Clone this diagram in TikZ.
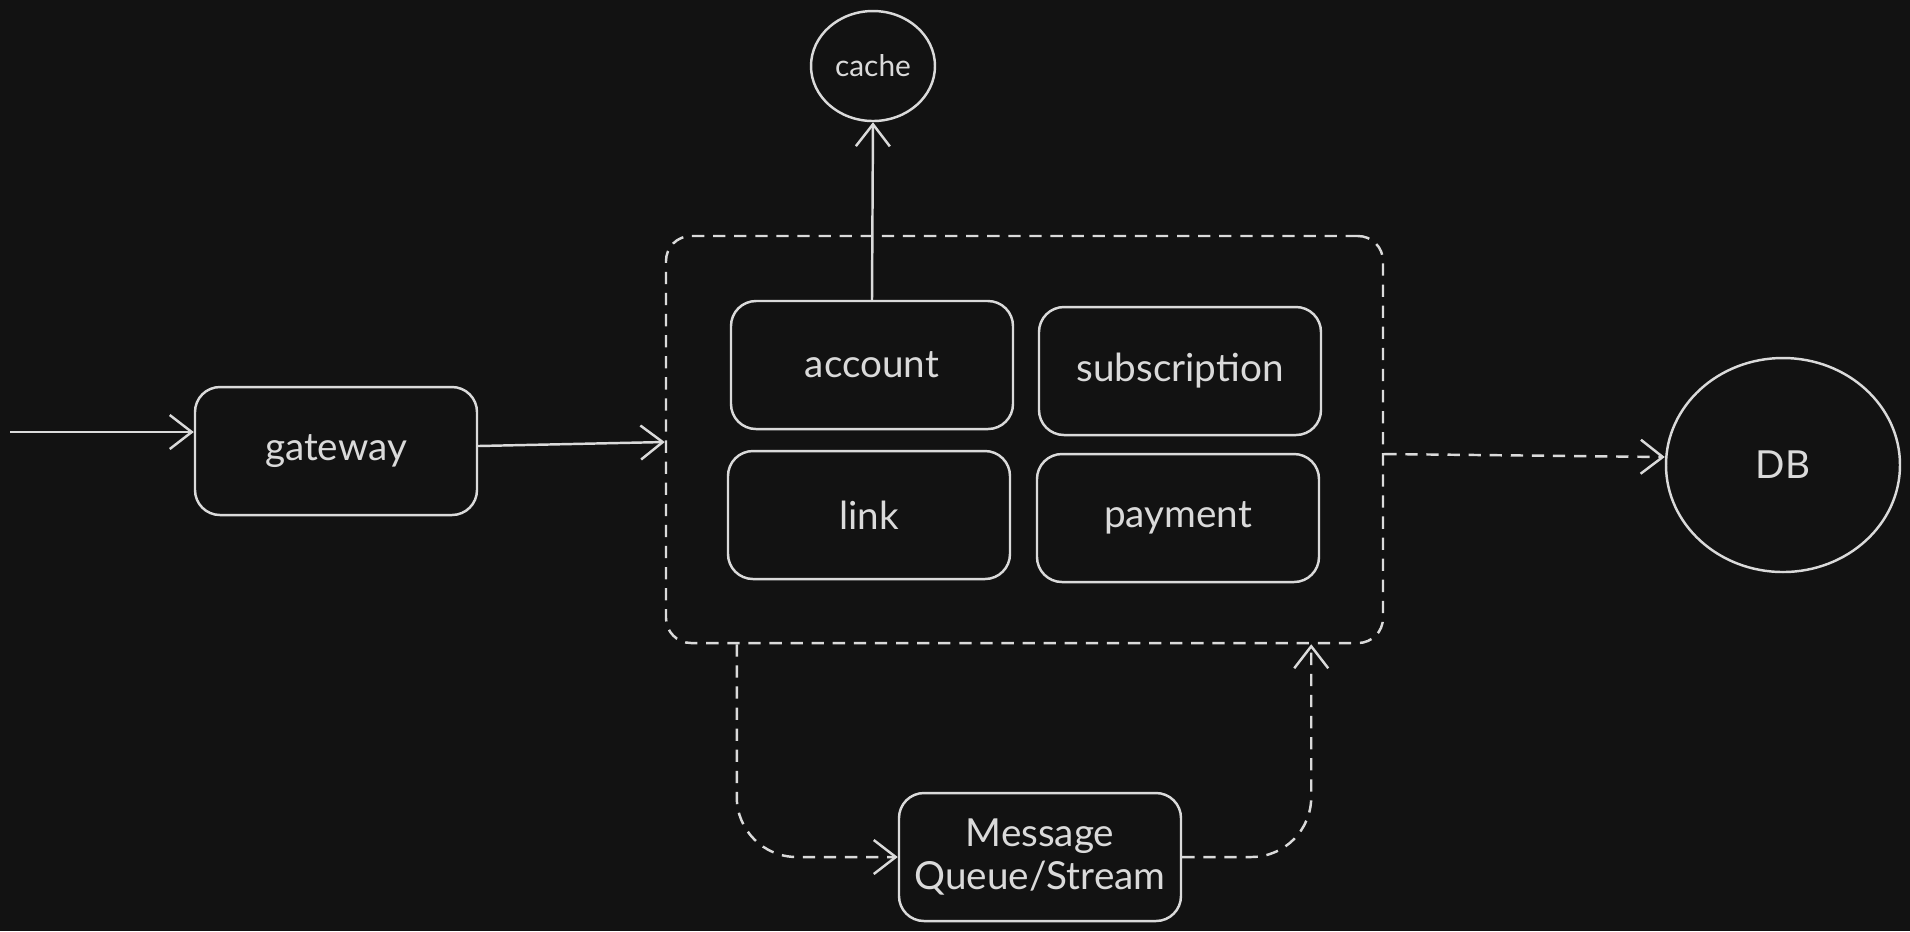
\documentclass[tikz,border=0pt]{standalone}
\usepackage{fontspec}
\setmainfont{Lato}
\usetikzlibrary{arrows.meta,shapes.geometric,calc}
\definecolor{bgdark}{HTML}{121212}
\definecolor{ink}{HTML}{DADADA}
\tikzset{
  svcbox/.style={
    draw=ink, line width=0.7pt, rounded corners=0.25cm,
    minimum width=2.82cm, minimum height=1.28cm,
    text=ink, font=\fontsize{11}{12.5}\selectfont, align=center
  },
  groupbox/.style={
    draw=ink, line width=0.7pt, rounded corners=0.25cm,
    dash pattern=on 3.5pt off 2.5pt
  },
  store/.style={draw=ink, line width=0.7pt, ellipse, text=ink, inner sep=0pt},
  flow/.style={draw=ink, line width=0.7pt, -{Straight Barb[length=2.2mm,width=3.4mm]}},
  dashflow/.style={flow, dash pattern=on 3.5pt off 2.5pt}
}

\begin{document}
\begin{tikzpicture}

    \fill[bgdark] (0,0) rectangle (19.1,-9.31);
    \useasboundingbox (0,0) rectangle (19.1,-9.31);

    % Entry and gateway
    \coordinate (src) at (0.1,-4.32);
    \node[svcbox] (gw) at (3.36,-4.51) {gateway};

    % Service group
    \node[groupbox, minimum width=7.17cm, minimum height=4.07cm] (grp) at (10.245,-4.395) {};
    \node[svcbox] (acc) at (8.72,-3.65) {account};
    \node[svcbox] (sub) at (11.80,-3.71) {subscription};
    \node[svcbox] (lnk) at (8.69,-5.15) {link};
    \node[svcbox] (pay) at (11.78,-5.18) {payment};

    % Stores
    \node[store, minimum width=1.24cm, minimum height=1.10cm, font=\fontsize{8.5}{10}\selectfont] (cache) at (8.73,-0.66) {cache};
    \node[store, minimum width=2.34cm, minimum height=2.14cm, font=\fontsize{11}{13}\selectfont] (db) at (17.83,-4.65) {DB};
    \node[svcbox] (mq) at (10.40,-8.57) {Message\\Queue/Stream};

    % Connectors
    \draw[flow] (src) -- (src -| gw.west);
    \draw[flow] ([yshift=0.05cm]gw.east) -- ([yshift=0.09cm]gw.east -| grp.west);
    \draw[flow] (acc.north) -- (cache.south);
    \draw[dashflow] ([yshift=-0.145cm]grp.east) -- ([yshift=0.08cm]db.west);
    \draw[dashflow, rounded corners=0.6cm] ([xshift=0.72cm]grp.south west) |- (mq.west);
    \draw[dashflow, rounded corners=0.6cm] (mq.east) -| ([xshift=-0.73cm]grp.south east);

\end{tikzpicture}
\end{document}
